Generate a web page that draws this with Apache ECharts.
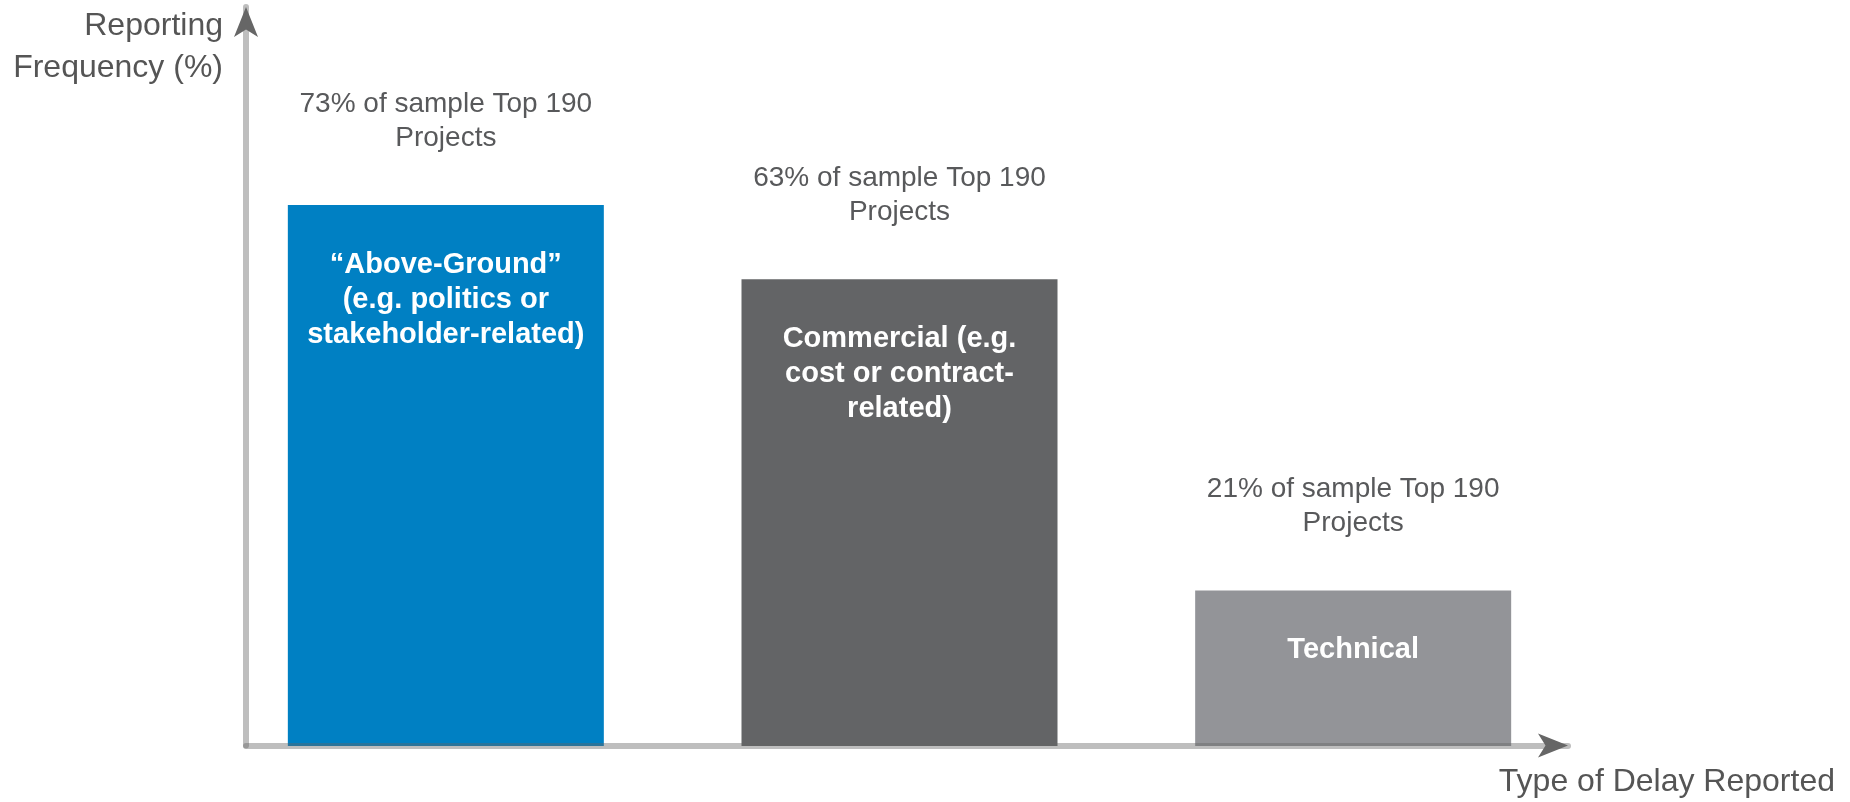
<!DOCTYPE html>
<html>
<head>
<meta charset="utf-8">
<script src="https://cdn.jsdelivr.net/npm/echarts@6/dist/echarts.min.js"></script>
<style>
  html, body { margin: 0; padding: 0; background: #ffffff; }
  #chart { width: 1850px; height: 802px; }
</style>
</head>
<body>
<div id="chart"></div>
<script>
// ---- data ----
const categories = ['Above-Ground', 'Commercial', 'Technical'];
const values = [73, 63, 21];
const insideLabels = [
  '\u201CAbove-Ground\u201D\n(e.g. politics or\nstakeholder-related)',
  'Commercial (e.g.\ncost or contract-\nrelated)',
  'Technical'
];
const topLabels = [
  '73% of sample Top 190\nProjects',
  '63% of sample Top 190\nProjects',
  '21% of sample Top 190\nProjects'
];
const yAxisName = 'Reporting\nFrequency (%)';
const xAxisName = 'Type of Delay Reported';

// ---- styles ----
const barColors = ['#0080c3', '#636466', '#939498'];
const FONT = "'Liberation Sans', Arial, Helvetica, sans-serif";
const lineColor = 'rgba(100,100,100,0.42)';
const arrowColor = '#666666';

const chart = echarts.init(document.getElementById('chart'), null, { renderer: 'canvas' });

const hiddenAxisParts = {
  axisTick: { show: false },
  axisLabel: { show: false },
  splitLine: { show: false }
};

const option = {
  animation: false,
  backgroundColor: '#ffffff',
  textStyle: { fontFamily: FONT },
  grid: [
    // bars
    { left: 219, right: 270, top: 5, bottom: 56, outerBoundsMode: 'none', containLabel: false },
    // axis lines
    { left: 246, right: 282, top: 7, bottom: 56.5, outerBoundsMode: 'none', containLabel: false },
    // arrows
    { left: 246, right: 282, top: 7, bottom: 56.5, outerBoundsMode: 'none', containLabel: false }
  ],
  xAxis: [
    { gridIndex: 0, type: 'category', data: categories, show: false },
    Object.assign({
      gridIndex: 1, type: 'value', min: 0, max: 1, z: 5,
      axisLine: { show: true, onZero: false, lineStyle: { color: lineColor, width: 6 } },
      name: xAxisName,
      nameLocation: 'end',
      nameGap: 267,
      nameTextStyle: {
        fontFamily: FONT, fontSize: 32, color: '#555555',
        align: 'right', verticalAlign: 'top', lineHeight: 38,
        padding: [18, 0, 0, 0]
      }
    }, hiddenAxisParts),
    Object.assign({
      gridIndex: 2, type: 'value', min: 0, max: 1, z: 6,
      axisLine: {
        show: true, onZero: false,
        symbol: ['none', 'arrow'], symbolSize: [18, 30], symbolOffset: [0, 0],
        lineStyle: { color: arrowColor, width: 0 }
      }
    }, hiddenAxisParts)
  ],
  yAxis: [
    { gridIndex: 0, type: 'value', min: 0, max: 100, show: false },
    Object.assign({
      gridIndex: 1, type: 'value', min: 0, max: 1, z: 5,
      axisLine: { show: true, onZero: false, lineStyle: { color: lineColor, width: 6 } },
      name: yAxisName,
      nameLocation: 'end',
      nameGap: 2,
      nameTextStyle: {
        fontFamily: FONT, fontSize: 32, color: '#555555',
        align: 'right', verticalAlign: 'top', lineHeight: 42,
        padding: [0, 23, 0, 0]
      }
    }, hiddenAxisParts),
    Object.assign({
      gridIndex: 2, type: 'value', min: 0, max: 1, z: 6,
      axisLine: {
        show: true, onZero: false,
        symbol: ['none', 'arrow'], symbolSize: [18, 30], symbolOffset: [0, 0],
        lineStyle: { color: arrowColor, width: 0 }
      }
    }, hiddenAxisParts)
  ],
  series: [
    {
      type: 'bar',
      xAxisIndex: 0, yAxisIndex: 0,
      barWidth: 316,
      barGap: '-100%',
      z: 2,
      data: values.map((v, i) => ({ value: v, itemStyle: { color: barColors[i] } })),
      label: {
        show: true,
        position: 'insideTop',
        distance: 42,
        formatter: p => insideLabels[p.dataIndex],
        color: '#ffffff',
        fontFamily: FONT,
        fontWeight: 'bold',
        fontSize: 29,
        lineHeight: 35,
        align: 'center'
      }
    },
    {
      type: 'bar',
      xAxisIndex: 0, yAxisIndex: 0,
      barWidth: 316,
      barGap: '-100%',
      z: 3,
      data: values.slice(),
      itemStyle: { color: 'rgba(0,0,0,0)' },
      label: {
        show: true,
        position: 'top',
        distance: 50,
        formatter: p => topLabels[p.dataIndex],
        color: '#58595b',
        fontFamily: FONT,
        fontSize: 28,
        lineHeight: 34,
        align: 'center'
      }
    }
  ]
};

chart.setOption(option);
</script>
</body>
</html>
